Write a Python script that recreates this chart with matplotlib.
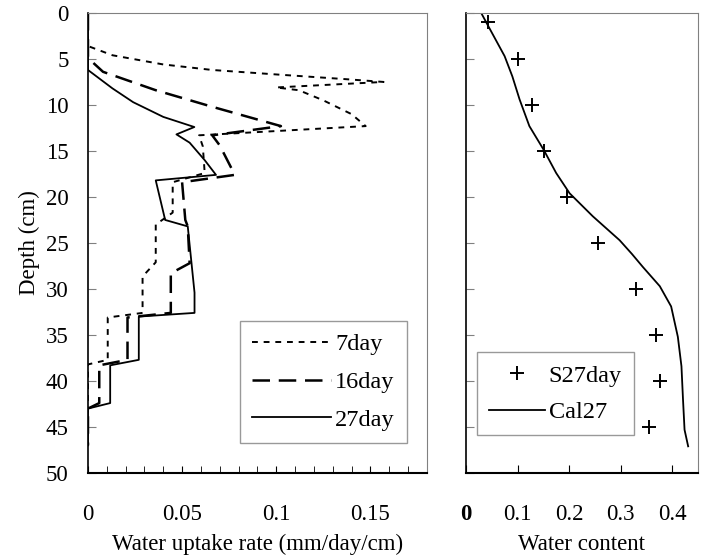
import matplotlib.pyplot as plt

plt.rcParams['font.family'] = ['Liberation Serif', 'DejaVu Serif']
plt.rcParams['font.size'] = 16.5

# uptake profiles (rate in mm/day/cm, depth in cm)
rate_7 = [0, 0, 0.013, 0.040, 0.066, 0.101, 0.137, 0.157, 0.100, 0.112, 0.125, 0.140, 0.1475,
          0.059, 0.061, 0.062, 0.045, 0.045, 0.036, 0.036, 0.031, 0.029, 0.029, 0.0105, 0.0105,
          0, 0]
depth_7 = [0, 3.6, 4.6, 5.6, 6.2, 6.7, 7.2, 7.5, 8.1, 8.4, 9.5, 11.0, 12.3,
           13.3, 14.5, 17.4, 18.4, 21.7, 23.0, 27.1, 28.2, 28.7, 32.6, 33.1, 37.7,
           38.2, 47]

rate_16 = [0, 0, 0.008, 0.036, 0.066, 0.1025, 0.066, 0.070, 0.078, 0.050, 0.0517, 0.053, 0.054,
           0.044, 0.044, 0.021, 0.021, 0.006, 0.006, 0, 0]
depth_16 = [0, 4.9, 6.4, 8.4, 10.2, 12.3, 13.3, 14.4, 17.6, 18.4, 22.5, 23.2, 27.2,
            28.3, 32.6, 33.1, 37.7, 38.3, 42.4, 43.0, 47]

rate_27 = [0, 0, 0.013, 0.024, 0.040, 0.0565, 0.047, 0.054, 0.062, 0.068, 0.036, 0.041, 0.053,
           0.055, 0.0566, 0.0566, 0.027, 0.027, 0.0118, 0.0118, 0, 0]
depth_27 = [0, 6.2, 8.2, 9.7, 11.3, 12.4, 13.2, 14.1, 16.0, 17.6, 18.2, 22.5, 23.2,
            27.2, 30.4, 32.6, 33.0, 37.7, 38.3, 42.4, 43.0, 47]

# water content, measured and calculated
wc_obs = [0.042, 0.100, 0.128, 0.151, 0.196, 0.256, 0.330, 0.369, 0.376, 0.356]
depth_obs = [1, 5, 10, 15, 20, 25, 30, 35, 40, 45]

wc_cal = [0.0295, 0.042, 0.075, 0.090, 0.104, 0.123, 0.151, 0.175, 0.201, 0.246, 0.298, 0.322,
          0.343, 0.376, 0.398, 0.411, 0.418, 0.421, 0.424, 0.431]
depth_cal = [0, 1.3, 4.7, 6.9, 9.4, 12.3, 14.9, 17.4, 19.6, 22.1, 24.7, 26.2,
             27.6, 29.7, 31.9, 35.2, 38.4, 42.0, 45.3, 47.1]

fig = plt.figure(figsize=(7.06, 5.57), dpi=100)
ax1 = fig.add_axes([0.1246, 0.1508, 0.480, 0.826])
ax2 = fig.add_axes([0.660, 0.1508, 0.3286, 0.826])

ax1.plot(rate_7, depth_7, color='black', lw=1.4, ls=(0, (3, 3)), label='7day')
ax1.plot(rate_16, depth_16, color='black', lw=1.8, ls=(0, (7, 3.5)), label='16day')
ax1.plot(rate_27, depth_27, color='black', lw=1.3, label='27day')

ax2.plot(wc_obs, depth_obs, ls='none', marker='+', ms=10, mew=1.4, color='black', label='S27day')
ax2.plot(wc_cal, depth_cal, color='black', lw=1.3, label='Cal27')

for ax in (ax1, ax2):
    ax.set_ylim(50, 0)
    ax.set_yticks(range(0, 51, 5))
    ax.tick_params(axis='y', direction='in', length=6, color='gray', left=True, right=False, pad=14)
    ax.tick_params(axis='x', direction='in', length=5, pad=22, top=False)
    ax.spines['top'].set_color('gray')
    ax.spines['right'].set_color('gray')
    ax.spines['left'].set_linewidth(1.2)
    ax.spines['bottom'].set_linewidth(1.5)

ax1.set_xlim(0, 0.18)
ax1.set_xticks([0, 0.05, 0.1, 0.15])
ax1.set_xticklabels(['0', '0.05', '0.1', '0.15'])
ax1.set_xticks([i / 100 for i in range(19)], minor=True)
ax1.tick_params(axis='x', which='minor', direction='in', length=5)
ax1.tick_params(axis='x', which='major', length=5)
ax1.set_ylabel('Depth (cm)', labelpad=4)
ax1.set_xlabel('Water uptake rate (mm/day/cm)', labelpad=7)

ax2.set_xlim(0, 0.45)
ax2.set_xticks([0, 0.1, 0.2, 0.3, 0.4])
ax2.set_xticklabels(['0', '0.1', '0.2', '0.3', '0.4'])
ax2.get_xticklabels()[0].set_fontweight('bold')
ax2.tick_params(axis='x', length=6)
ax2.set_yticklabels([])
ax2.set_xlabel('Water content', labelpad=7)

leg1 = ax1.legend(loc='lower right', bbox_to_anchor=(0.941, 0.065), fancybox=False,
                  edgecolor='gray', handlelength=3.25, borderpad=0.5, labelspacing=0.65,
                  handletextpad=0.15, fontsize=17.5, borderaxespad=0)
leg1.get_frame().set_linewidth(1.0)

leg2 = ax2.legend(loc='lower left', bbox_to_anchor=(0.047, 0.082), fancybox=False,
                  edgecolor='gray', handlelength=2.3, borderpad=0.5, labelspacing=0.6,
                  handletextpad=0.15, fontsize=17.5, borderaxespad=0)
leg2.get_frame().set_linewidth(1.0)

plt.savefig('out.png', dpi=100)
